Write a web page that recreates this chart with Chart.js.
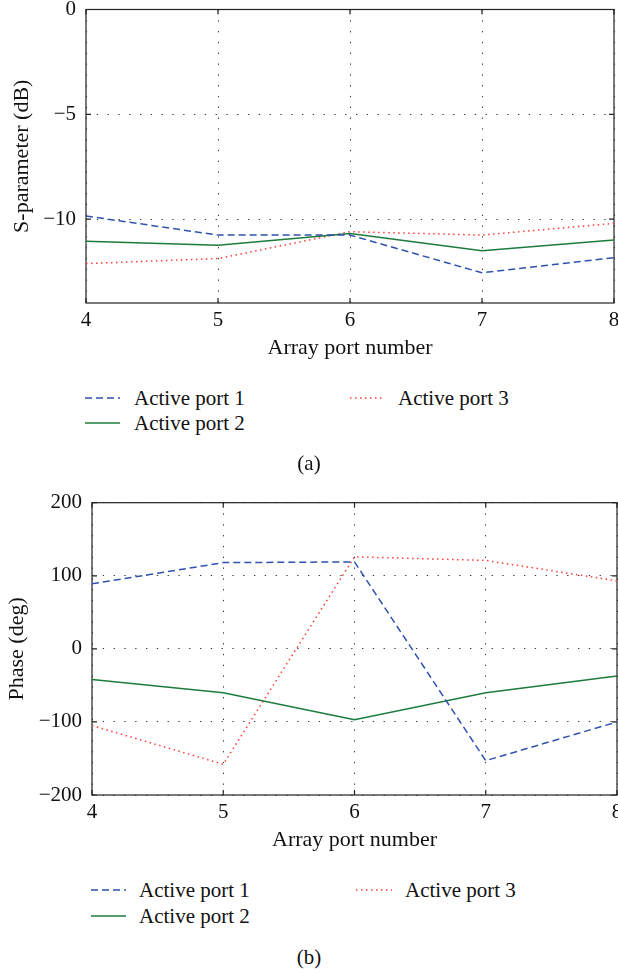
<!DOCTYPE html>
<html>
<head>
<meta charset="utf-8">
<script src="https://cdn.jsdelivr.net/npm/chart.js@4"></script>
<style>
  html, body { margin: 0; padding: 0; background: #fff; }
  body { width: 618px; height: 973px; overflow: hidden; position: relative;
         font-family: "Liberation Serif", "DejaVu Serif", serif; color: #111; }
  canvas { position: absolute; left: 0; }
  .leg { position: absolute; font-size: 21px; line-height: 24px; white-space: nowrap; }
  .leg svg { position: absolute; top: 0; }
  .cap { position: absolute; width: 618px; text-align: center; font-size: 21px; }
</style>
</head>
<body>
<canvas id="chartA" width="640" height="390" style="top:-20px"></canvas>
<canvas id="chartB" width="640" height="402" style="top:460px"></canvas>
<div id="legends"></div>
<div class="cap" style="top:451px">(a)</div>
<div class="cap" style="top:945px">(b)</div>
<script>
// data
const ports = [4, 5, 6, 7, 8];
const seriesNames = ['Active port 1', 'Active port 2', 'Active port 3'];

// (a) S-parameter (dB)
const sPort1 = [-9.85, -10.76, -10.76, -12.56, -11.84];
const sPort2 = [-11.05, -11.24, -10.68, -11.51, -10.99];
const sPort3 = [-12.12, -11.88, -10.6, -10.76, -10.2];
const sTicks = [0, -5, -10];

// (b) Phase (deg)
const pPort1 = [89, 118, 119, -153, -100];
const pPort2 = [-42, -60, -97, -60, -37];
const pPort3 = [-105, -158, 126, 121, 93];
const pTicks = [200, 100, 0, -100, -200];

const colors = ['#2f52b0', '#1c7c3c', '#ff3b3b'];
const dashes = [[7, 4], [], [1.5, 3.5]];
const tickFont = { family: '"Liberation Serif", "DejaVu Serif", serif', size: 21 };
const titleFont = { family: '"Liberation Serif", "DejaVu Serif", serif', size: 22 };

// box + inward tick marks like the original
const boxPlugin = {
  id: 'box',
  beforeDatasetsDraw(chart) {
    const { ctx, chartArea: a, scales } = chart;
    ctx.save();
    ctx.strokeStyle = '#222';
    ctx.lineWidth = 1.2;
    ctx.strokeRect(a.left, a.top, a.right - a.left, a.bottom - a.top);
    ctx.beginPath();
    scales.x.ticks.forEach(t => {
      const x = scales.x.getPixelForValue(t.value);
      ctx.moveTo(x, a.bottom); ctx.lineTo(x, a.bottom - 5);
      ctx.moveTo(x, a.top); ctx.lineTo(x, a.top + 5);
    });
    scales.y.ticks.forEach(t => {
      const y = scales.y.getPixelForValue(t.value);
      ctx.moveTo(a.left, y); ctx.lineTo(a.left + 5, y);
      ctx.moveTo(a.right, y); ctx.lineTo(a.right - 5, y);
    });
    ctx.stroke();
    ctx.restore();
  }
};

function makeChart(id, series, yMin, yMax, yTicks, yTitle, yWidth, pad, titlePad) {
  return new Chart(document.getElementById(id), {
    type: 'line',
    data: {
      datasets: series.map((vals, i) => ({
        label: seriesNames[i],
        data: ports.map((p, j) => ({ x: p, y: vals[j] })),
        borderColor: colors[i],
        borderWidth: 1.5,
        borderDash: dashes[i],
        pointRadius: 0,
        tension: 0,
        fill: false
      }))
    },
    options: {
      responsive: false,
      animation: false,
      layout: { padding: pad },
      plugins: { legend: { display: false }, tooltip: { enabled: false } },
      scales: {
        x: {
          type: 'linear', min: 4, max: 8,
          afterBuildTicks: s => { s.ticks = ports.map(v => ({ value: v })); },
          afterFit: s => { s.height = 67; },
          ticks: { font: tickFont, color: '#111', padding: 4.5, maxRotation: 0 },
          grid: { color: '#333', lineWidth: 1, drawTicks: false },
          border: { display: false, dash: [1.3, 9.5] },
          title: { display: true, text: 'Array port number', font: titleFont, color: '#111', padding: { top: 0, bottom: 8.8 } }
        },
        y: {
          type: 'linear', min: yMin, max: yMax,
          afterBuildTicks: s => { s.ticks = yTicks.map(v => ({ value: v })); },
          afterFit: s => { s.width = yWidth; },
          ticks: { font: tickFont, color: '#111', padding: 10, callback: v => String(v).replace('-', '\u2212') },
          grid: { color: '#333', lineWidth: 1, drawTicks: false },
          border: { display: false, dash: [1.3, 9.5] },
          title: { display: true, text: yTitle, font: titleFont, color: '#111', padding: { top: titlePad, bottom: 0 } }
        }
      }
    },
    plugins: [boxPlugin]
  });
}

makeChart('chartA', [sPort1, sPort2, sPort3], -14, 0, sTicks, 'S-parameter (dB)', 86,
  { top: 29.5, right: 26, left: 0, bottom: 0 }, 9);
makeChart('chartB', [pPort1, pPort2, pPort3], -200, 200, pTicks, 'Phase (deg)', 92,
  { top: 42.7, right: 23, left: 0, bottom: 0 }, 4);

// HTML legends (two columns, like the figure)
function legendItem(i, sx, sw, tx, cy) {
  const d = document.createElement('div');
  d.className = 'leg';
  d.style.left = sx + 'px';
  d.style.top = (cy - 12) + 'px';
  const dash = dashes[i].length ? `stroke-dasharray="${dashes[i].join(' ')}"` : '';
  d.innerHTML = `<svg width="${sw}" height="24" style="left:0"><line x1="0" y1="12" x2="${sw}" y2="12" stroke="${colors[i]}" stroke-width="1.4" ${dash}/></svg>` +
    `<span style="position:absolute;left:${tx - sx}px;top:0">${seriesNames[i]}</span>`;
  document.getElementById('legends').appendChild(d);
}
legendItem(0, 85, 35, 134, 398);
legendItem(1, 85, 35, 134, 423);
legendItem(2, 350, 35, 398, 398);
legendItem(0, 91, 35, 139, 890);
legendItem(1, 91, 35, 139, 916);
legendItem(2, 356, 36, 405, 890);
</script>
</body>
</html>
